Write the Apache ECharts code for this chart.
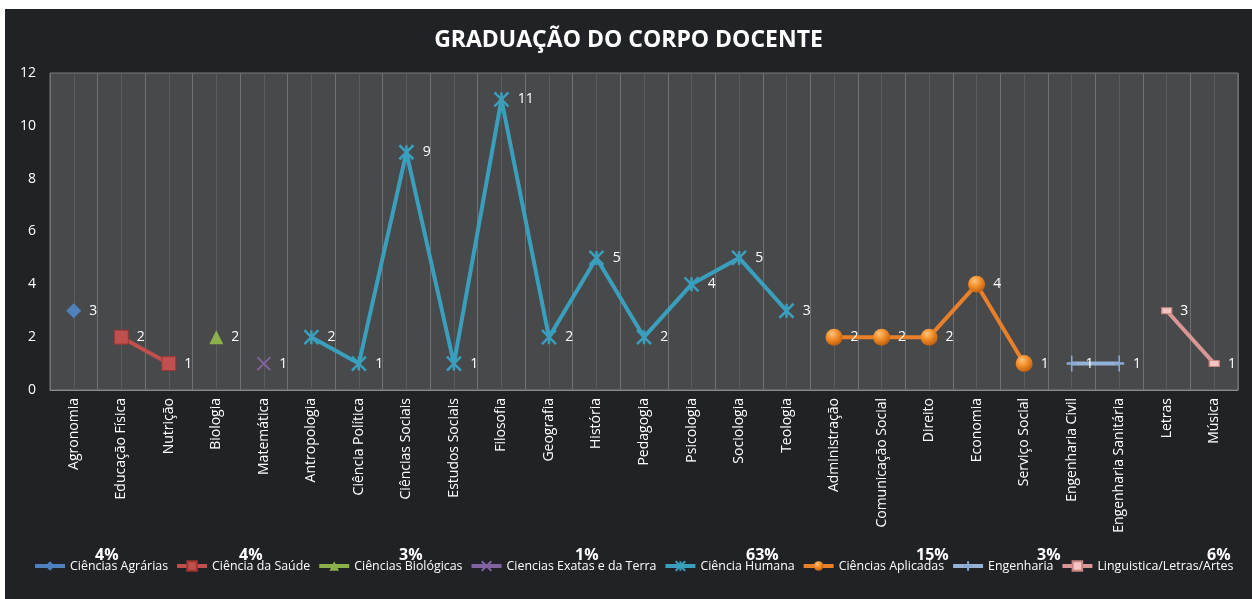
<!DOCTYPE html>
<html>
<head>
<meta charset="utf-8">
<script src="https://cdn.jsdelivr.net/npm/echarts@6/dist/echarts.min.js"></script>
<style>
	html, body { margin: 0; padding: 0; background: #ffffff; }
	#chart { position: absolute; left: 5px; top: 9px; width: 1247px; height: 590px; background: #202226; }
</style>
</head>
<body>
<div id="chart"></div>
<script>
// categorias do eixo x
const categories = ['Agronomia', 'Educação Física', 'Nutrição', 'Biologia', 'Matemática', 'Antropologia',
	'Ciência Política', 'Ciências Sociais', 'Estudos Sociais', 'Filosofia', 'Geografia', 'História',
	'Pedagogia', 'Psicologia', 'Sociologia', 'Teologia', 'Administração', 'Comunicação Social', 'Direito',
	'Economia', 'Serviço Social', 'Engenharia Civil', 'Engenharia Sanitária', 'Letras', 'Música'];

// valores por área
const agrarias = [['Agronomia', 3]];
const saude = [['Educação Física', 2], ['Nutrição', 1]];
const biologicas = [['Biologia', 2]];
const exatas = [['Matemática', 1]];
const humana = [['Antropologia', 2], ['Ciência Política', 1], ['Ciências Sociais', 9], ['Estudos Sociais', 1],
	['Filosofia', 11], ['Geografia', 2], ['História', 5], ['Pedagogia', 2], ['Psicologia', 4],
	['Sociologia', 5], ['Teologia', 3]];
const aplicadas = [['Administração', 2], ['Comunicação Social', 2], ['Direito', 2], ['Economia', 4], ['Serviço Social', 1]];
const engenharia = [['Engenharia Civil', 1], ['Engenharia Sanitária', 1]];
const letras = [['Letras', 3], ['Música', 1]];

// percentuais mostrados sobre a legenda
const shares = ['4%', '4%', '3%', '1%', '63%', '15%', '3%', '6%'];
const shareX = [104, 248, 408, 584, 755, 925, 1046, 1216];

const yTicks = { min: 0, max: 12, interval: 2 };

const font = "'Open Sans', 'Noto Sans', sans-serif";

let myChart = echarts.init(document.getElementById('chart'));

function serie(name, data, color, symbol, size, itemStyle) {
	return {
		name: name,
		type: 'line',
		data: data,
		symbol: symbol,
		symbolSize: size,
		lineStyle: { color: color, width: 4 },
		itemStyle: Object.assign({ color: color }, itemStyle || {}),
		label: {
			show: true,
			position: 'right',
			distance: 8,
			color: '#ffffff',
			fontSize: 14,
			fontFamily: font
		},
		emphasis: { disabled: true },
		z: 3
	};
}

const halfCats = [];
for (let i = 0; i < categories.length * 2; i++) halfCats.push('');

myChart.setOption({
	backgroundColor: '#202226',
	animation: false,
	title: {
		text: 'GRADUAÇÃO DO CORPO DOCENTE',
		left: 'center',
		top: 15,
		textStyle: { color: '#ffffff', fontSize: 23, fontWeight: 'bold', fontFamily: font }
	},
	legend: {
		left: 28,
		top: 551,
		width: 1240,
		padding: 0,
		itemWidth: 30,
		itemHeight: 12,
		itemGap: 7,
		lineStyle: { width: 4 },
		textStyle: { color: '#ffffff', fontSize: 12.4, fontFamily: font },
		data: ['Ciências Agrárias', 'Ciência da Saúde', 'Ciências Biológicas', 'Ciencias Exatas e da Terra',
			'Ciência Humana', 'Ciências Aplicadas', 'Engenharia', 'Linguistica/Letras/Artes']
	},
	grid: {
		left: 45,
		top: 64,
		right: 14,
		bottom: 209,
		show: true,
		backgroundColor: '#48494b',
		borderColor: '#7a7a7a',
		borderWidth: 1
	},
	xAxis: [{
		type: 'category',
		data: categories,
		boundaryGap: true,
		axisLine: { show: true, lineStyle: { color: '#8a8a8a' } },
		axisTick: { show: false },
		splitLine: { show: false },
		axisLabel: { interval: 0, rotate: 90, color: '#ffffff', fontSize: 14, margin: 8, fontFamily: font }
	}, {
		// só para as linhas de grade verticais (fronteiras e centros)
		type: 'category',
		data: halfCats,
		boundaryGap: true,
		position: 'bottom',
		axisLine: { show: false },
		axisTick: { show: false },
		axisLabel: { show: false },
		splitLine: { show: true, interval: 0, lineStyle: { color: ['#707172', '#5a5b5d'], width: 1 } }
	}],
	yAxis: {
		type: 'value',
		min: yTicks.min,
		max: yTicks.max,
		interval: yTicks.interval,
		axisLine: { show: false },
		axisTick: { show: false },
		splitLine: { show: false },
		axisLabel: { color: '#ffffff', fontSize: 14, margin: 14, fontFamily: font }
	},
	series: [
		serie('Ciências Agrárias', agrarias, '#4f81bd', 'diamond', 15),
		serie('Ciência da Saúde', saude, '#c0504d', 'rect', 14, { borderColor: '#9c3532', borderWidth: 1 }),
		serie('Ciências Biológicas', biologicas, '#8cb04a', 'triangle', 14),
		serie('Ciencias Exatas e da Terra', exatas, '#8064a2', 'path://M0,0L10,10M10,0L0,10', 13,
			{ borderColor: '#8064a2', borderWidth: 2 }),
		serie('Ciência Humana', humana, '#3a9fbd', 'path://M0,0L10,10M10,0L0,10M5,0L5,10', 14,
			{ borderColor: '#3a9fbd', borderWidth: 2.5 }),
		serie('Ciências Aplicadas', aplicadas, '#e8802a', 'circle', 17, {
			color: new echarts.graphic.RadialGradient(0.38, 0.3, 0.75, [
				{ offset: 0, color: '#ffc27a' },
				{ offset: 0.5, color: '#f08a25' },
				{ offset: 1, color: '#b95b10' }
			])
		}),
		serie('Engenharia', engenharia, '#95b3d7', 'path://M5,0L5,16M0,8L10,8', [10, 16],
			{ borderColor: '#8aa8d0', borderWidth: 2 }),
		serie('Linguistica/Letras/Artes', letras, '#d99694', 'rect', [10, 6],
			{ color: '#f2c4c3', borderColor: '#c98280', borderWidth: 1 })
	],
	graphic: shares.map(function (s, i) {
		return {
			type: 'text',
			left: shareX[i] - 14,
			top: 538,
			z: 100,
			style: {
				text: s,
				fill: '#ffffff',
				font: 'bold 16px ' + font,
				align: 'center'
			}
		};
	})
});
</script>
</body>
</html>
